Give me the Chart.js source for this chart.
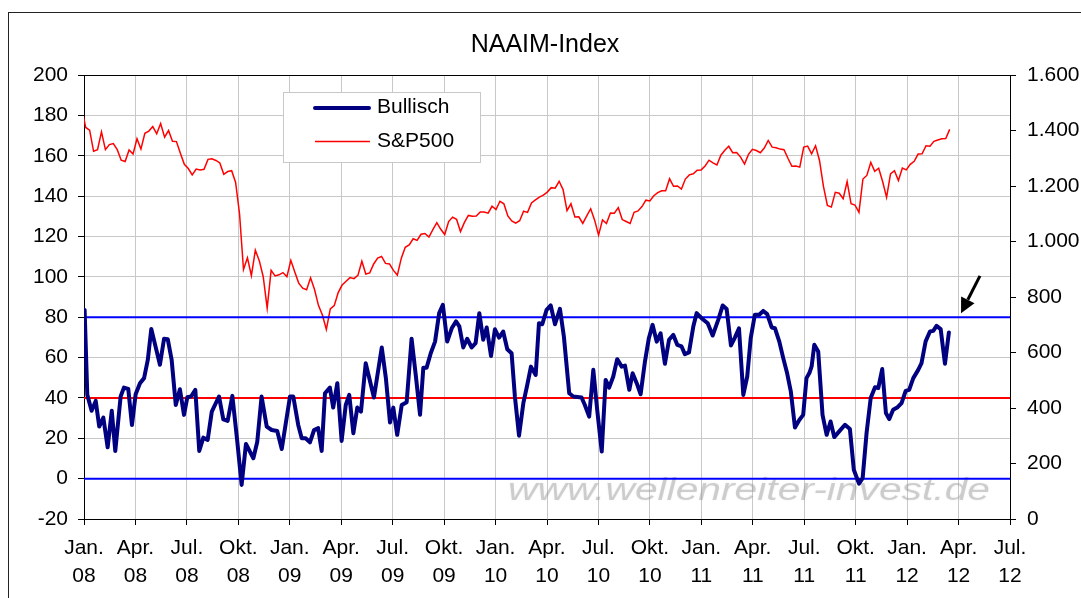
<!DOCTYPE html>
<html>
<head>
<meta charset="utf-8">
<title>NAAIM-Index</title>
<script src="https://cdn.jsdelivr.net/npm/chart.js@4.4.1/dist/chart.umd.min.js"></script>
<style>
  body { margin: 0; background: #fff; }
  #rahmen { position: absolute; left: 8px; top: 12px; width: 1200px; height: 700px; border: 1px solid #222; }
  #wrap { position: absolute; left: 0; top: 0; width: 1081px; height: 598px; }
</style>
</head>
<body>
<div id="rahmen"></div>
<div id="wrap"><canvas id="chartNaaim" width="1081" height="598"></canvas></div>
<script>
const titel = 'NAAIM-Index';
const wasserzeichen = 'www.wellenreiter-invest.de';

// x-Achse: Quartale als Dezimaljahr
const quartalTicks = [2008, 2008.25, 2008.5, 2008.75, 2009, 2009.25, 2009.5, 2009.75, 2010, 2010.25,
    2010.5, 2010.75, 2011, 2011.25, 2011.5, 2011.75, 2012, 2012.25, 2012.5];
const quartalLabels = [['Jan.','08'],['Apr.','08'],['Jul.','08'],['Okt.','08'],['Jan.','09'],['Apr.','09'],
    ['Jul.','09'],['Okt.','09'],['Jan.','10'],['Apr.','10'],['Jul.','10'],['Okt.','10'],['Jan.','11'],
    ['Apr.','11'],['Jul.','11'],['Okt.','11'],['Jan.','12'],['Apr.','12'],['Jul.','12']];

// NAAIM Bullisch (Dezimaljahr, Wert)
const naaimX = [2008.003,2008.016,2008.037,2008.057,2008.074,2008.094,2008.115,2008.135,2008.152,2008.178,
    2008.194,2008.215,2008.233,2008.251,2008.272,2008.292,2008.310,2008.327,2008.369,2008.389,
    2008.407,2008.426,2008.446,2008.466,2008.486,2008.502,2008.520,2008.541,2008.560,2008.580,
    2008.601,2008.621,2008.656,2008.677,2008.698,2008.721,2008.745,2008.766,2008.787,2008.823,
    2008.842,2008.863,2008.888,2008.912,2008.939,2008.961,2009.001,2009.017,2009.041,2009.058,
    2009.077,2009.098,2009.118,2009.138,2009.155,2009.171,2009.195,2009.211,2009.231,2009.252,
    2009.272,2009.289,2009.309,2009.328,2009.346,2009.369,2009.409,2009.447,2009.467,2009.487,
    2009.503,2009.522,2009.544,2009.568,2009.592,2009.613,2009.633,2009.649,2009.665,2009.685,
    2009.706,2009.726,2009.744,2009.765,2009.787,2009.808,2009.824,2009.843,2009.862,2009.884,
    2009.903,2009.921,2009.940,2009.957,2009.978,2009.997,2010.017,2010.037,2010.057,2010.078,
    2010.094,2010.114,2010.135,2010.154,2010.172,2010.195,2010.211,2010.227,2010.248,2010.268,
    2010.289,2010.313,2010.332,2010.358,2010.378,2010.418,2010.434,2010.455,2010.475,2010.494,
    2010.516,2010.535,2010.552,2010.572,2010.591,2010.613,2010.629,2010.650,2010.666,2010.686,
    2010.705,2010.726,2010.745,2010.763,2010.783,2010.802,2010.823,2010.843,2010.864,2010.883,
    2010.904,2010.920,2010.940,2010.961,2010.977,2011.001,2011.031,2011.055,2011.082,2011.104,
    2011.123,2011.144,2011.163,2011.183,2011.204,2011.223,2011.240,2011.260,2011.281,2011.301,
    2011.320,2011.342,2011.358,2011.379,2011.398,2011.417,2011.435,2011.455,2011.476,2011.495,
    2011.511,2011.525,2011.536,2011.549,2011.568,2011.589,2011.609,2011.628,2011.646,2011.670,
    2011.698,2011.722,2011.741,2011.766,2011.784,2011.803,2011.823,2011.844,2011.860,2011.879,
    2011.897,2011.913,2011.932,2011.954,2011.973,2011.993,2012.010,2012.030,2012.054,2012.070,
    2012.090,2012.111,2012.127,2012.143,2012.163,2012.184,2012.203];
const naaimWerte = [83.6,41.5,33.6,38.5,25.8,30.2,15.5,33.6,13.7,40.7,
    45.1,44.5,26.6,41.8,47.3,49.8,58.8,74.2,56.4,69.3,
    69.1,58.8,36.5,44.3,31.6,40.3,40.7,44.0,13.7,20.3,
    19.2,33.2,40.7,29.4,28.6,41.0,18.3,-3.1,17.2,10.1,
    18.3,40.7,25.8,24.1,23.6,14.7,40.7,40.7,26.6,20.0,
    20.0,18.0,24.1,25.0,13.7,42.3,45.1,35.2,47.3,18.7,
    36.5,41.5,22.5,35.2,33.2,57.2,40.2,65.0,49.8,27.8,
    35.2,21.7,36.5,37.9,69.3,50.6,31.6,55.0,55.0,62.1,
    67.9,82.0,86.1,67.9,74.5,77.9,75.4,65.0,69.3,65.0,
    67.1,82.0,68.8,74.9,60.8,74.0,69.9,72.9,64.1,62.1,
    40.7,21.3,37.4,46.4,55.5,51.4,77.0,76.5,83.6,85.8,
    76.5,84.1,70.4,42.3,40.7,40.2,36.5,30.7,53.9,34.0,
    13.4,48.9,45.1,50.6,59.2,55.5,56.0,44.0,52.2,47.3,
    41.8,58.0,69.6,76.2,67.9,72.0,56.9,68.8,71.2,66.3,
    65.5,61.7,62.6,75.4,82.0,79.5,77.0,70.9,78.7,85.8,
    84.1,66.0,69.9,74.5,41.5,50.6,69.6,81.2,81.2,83.1,
    81.5,74.9,74.5,67.9,59.7,52.2,43.1,25.3,29.1,31.6,
    49.8,52.3,55.6,66.3,63.0,31.6,21.7,28.3,20.6,23.4,
    26.7,24.6,4.4,-2.5,0.3,22.6,39.9,45.3,44.9,54.3,
    32.5,29.5,34.1,35.4,37.4,43.5,44.0,49.8,53.9,57.2,
    68.0,72.9,73.2,75.7,74.1,56.9,72.4];

// S&P500 Wochenschluss, ab Freitag 28.12.2007
const spStart = '2007-12-28';
const spWerte = [1478,
    1411,1401,1325,1331,1395,1331,1349,1353,1331,1293,1288,1330,1315,1370,1333,1390,1398,1414,1388,1425,
    1376,1400,1361,1360,1318,1278,1263,1240,1261,1258,1260,1296,1298,1292,1283,1242,1252,1255,1213,1099,
    899,941,877,969,931,873,760,896,876,880,888,873,
    932,890,850,832,826,869,827,770,735,683,757,769,816,843,857,870,866,878,929,883,887,919,940,946,921,919,
    896,879,940,979,988,1010,1004,1026,1029,1016,1043,1068,1044,1025,1072,1088,1080,1036,1069,1094,1091,1092,
    1106,1106,1102,1127,1115,
    1145,1136,1092,1074,1066,1075,1109,1105,1139,1150,1160,1167,1178,1194,1192,1217,1187,1111,1136,1088,1089,
    1065,1092,1118,1077,1023,1078,1065,1103,1102,1122,1079,1072,1065,1105,1110,1126,1149,1146,1165,1176,1183,
    1183,1226,1199,1200,1189,1225,1240,1244,1257,1258,
    1272,1293,1283,1276,1311,1329,1343,1320,1321,1304,1279,1314,1332,1328,1320,1337,1364,1340,1338,1333,1331,
    1300,1271,1272,1268,1340,1344,1316,1345,1292,1199,1130,1124,1177,1174,1154,1216,1136,1131,1105,1225,1238,
    1285,1253,1264,1216,1159,1244,1255,1220,1265,1258,
    1278,1289,1315,1316,1345,1343,1361,1366,1370,1371,1404];

// Marken-Linien auf der linken Achse
const marken = [80, 40, 0];

// Pfeil (Dezimaljahr / linke Achse)
const pfeilVon = { x: 2012.354, y: 100.5 };
const pfeilNach = { x: 2012.262, y: 82 };

const tagMs = 864e5;
const basis = Date.UTC(2008, 0, 1);
const tageProJahr = (Date.UTC(2012, 6, 1) - basis) / tagMs / 4.5;
function zuJahr(ms) { return 2008 + (ms - basis) / tagMs / tageProJahr; }

function formatDe(v) { return String(v).replace(/\B(?=(\d{3})+(?!\d))/g, '.'); }

const naaimPunkte = naaimX.map((x, i) => ({ x: x, y: naaimWerte[i] }));
const spPunkte = spWerte.map((v, i) => ({ x: zuJahr(Date.parse(spStart) + i * 7 * tagMs), y: v }));
const xMin = quartalTicks[0], xMax = quartalTicks[quartalTicks.length - 1];

const schrift = { family: "'Liberation Sans', Arial, sans-serif", size: 21 };

const extras = {
    id: 'extras',
    beforeDatasetsDraw(chart) {
        // Wasserzeichen, in die Breite gezogen
        const c = chart.ctx;
        c.save();
        c.font = "italic 31px 'Liberation Sans', Arial, sans-serif";
        const w0 = c.measureText(wasserzeichen).width;
        c.translate(508, 500);
        c.scale(482 / w0, 1);
        c.fillStyle = 'rgba(150,150,150,0.4)';
        c.textBaseline = 'alphabetic';
        c.shadowColor = 'rgba(150,150,150,0.4)';
        c.shadowBlur = 2;
        c.fillText(wasserzeichen, 0, 0);
        c.restore();
    },
    afterDraw(chart) {
        const c = chart.ctx, a = chart.chartArea;
        c.save();
        // Rahmen oben
        c.strokeStyle = '#000';
        c.lineWidth = 1;
        c.beginPath();
        c.moveTo(a.left, Math.round(a.top) + 0.5);
        c.lineTo(a.right, Math.round(a.top) + 0.5);
        c.stroke();

        // Titel
        c.fillStyle = '#000';
        c.font = "25px 'Liberation Sans', Arial, sans-serif";
        c.textAlign = 'center';
        c.textBaseline = 'middle';
        c.fillText(titel, 545, 45);

        // Legende
        const ds = chart.data.datasets;
        const nav = ds[0], sp = ds[ds.length - 1];
        c.fillStyle = '#fff';
        c.fillRect(283.5, 92.5, 197, 70);
        c.strokeStyle = '#c8c8c8';
        c.strokeRect(283.5, 92.5, 197, 70);
        c.lineCap = 'round';
        c.strokeStyle = nav.borderColor;
        c.lineWidth = nav.borderWidth;
        c.beginPath(); c.moveTo(315, 108); c.lineTo(369, 108); c.stroke();
        c.lineCap = 'butt';
        c.strokeStyle = sp.borderColor;
        c.lineWidth = sp.borderWidth;
        c.beginPath(); c.moveTo(315, 141.5); c.lineTo(370, 141.5); c.stroke();
        c.fillStyle = '#000';
        c.font = "21px 'Liberation Sans', Arial, sans-serif";
        c.textAlign = 'left';
        c.fillText(nav.label, 377, 107);
        c.fillText(sp.label, 377, 141);

        // Pfeil
        const sx = chart.scales.x, sy = chart.scales.y;
        const x1 = sx.getPixelForValue(pfeilVon.x), y1 = sy.getPixelForValue(pfeilVon.y);
        const x2 = sx.getPixelForValue(pfeilNach.x), y2 = sy.getPixelForValue(pfeilNach.y);
        const ang = Math.atan2(y2 - y1, x2 - x1);
        const kopf = 15;
        const bx = x2 - Math.cos(ang) * kopf, by = y2 - Math.sin(ang) * kopf;
        c.strokeStyle = '#000';
        c.fillStyle = '#000';
        c.lineWidth = 3;
        c.beginPath(); c.moveTo(x1, y1); c.lineTo(bx, by); c.stroke();
        c.beginPath();
        c.moveTo(x2, y2);
        c.lineTo(bx + Math.sin(ang) * 7.5, by - Math.cos(ang) * 7.5);
        c.lineTo(bx - Math.sin(ang) * 7.5, by + Math.cos(ang) * 7.5);
        c.closePath();
        c.fill();
        c.restore();
    }
};

const markenSets = marken.map(m => ({
    label: 'Marke ' + m,
    data: [{ x: xMin, y: m }, { x: xMax, y: m }],
    borderColor: m === 40 ? '#ff0000' : '#0000ff',
    borderWidth: 2,
    pointRadius: 0,
    yAxisID: 'y',
    order: 1
}));

new Chart(document.getElementById('chartNaaim'), {
    type: 'line',
    data: {
        datasets: [
            { label: 'Bullisch', data: naaimPunkte, borderColor: '#000080', borderWidth: 4, pointRadius: 0,
              tension: 0, borderJoinStyle: 'round', borderCapStyle: 'round', yAxisID: 'y', order: 0 },
            ...markenSets,
            { label: 'S&P500', data: spPunkte, borderColor: '#ff0000', borderWidth: 1.5, pointRadius: 0,
              tension: 0, yAxisID: 'y2', order: 2 }
        ]
    },
    options: {
        responsive: false,
        animation: false,
        devicePixelRatio: 1,
        layout: { padding: { top: 75, left: 0, right: 0, bottom: 0 } },
        plugins: { legend: { display: false }, tooltip: { enabled: false }, title: { display: false } },
        scales: {
            x: {
                type: 'linear', min: xMin, max: xMax,
                afterBuildTicks: s => { s.ticks = quartalTicks.map(v => ({ value: v })); },
                afterFit: s => { s.height = 79; },
                ticks: { autoSkip: false, maxRotation: 0, minRotation: 0, padding: 9, color: '#000',
                         font: Object.assign({ lineHeight: 1.35 }, schrift),
                         callback: (v, i) => quartalLabels[i] },
                grid: { color: '#c8c8c8', tickColor: '#000', tickLength: 6 },
                border: { color: '#000', width: 1 }
            },
            y: {
                position: 'left', min: -20, max: 200,
                afterFit: s => { s.width = 84; },
                ticks: { stepSize: 20, padding: 10, color: '#000', font: schrift },
                grid: { color: '#c8c8c8', tickColor: '#000', tickLength: 6 },
                border: { color: '#000', width: 1 }
            },
            y2: {
                position: 'right', min: 0, max: 1600,
                afterFit: s => { s.width = 71; },
                ticks: { stepSize: 200, padding: 11, color: '#000', font: schrift, callback: v => formatDe(v) },
                grid: { drawOnChartArea: false, tickColor: '#000', tickLength: 6 },
                border: { color: '#000', width: 1 }
            }
        }
    },
    plugins: [extras]
});
</script>
</body>
</html>
